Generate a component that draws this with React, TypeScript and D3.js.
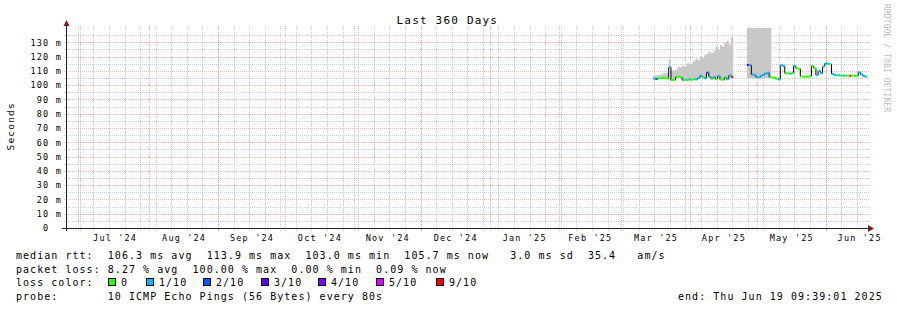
import React from 'react';
import * as d3 from 'd3';

// ---------- data ----------
const TITLE = 'Last 360 Days';
const Y_LABEL = 'Seconds';
const WATERMARK = 'RRDTOOL / TOBI OETIKER';
const yTickValues = [0, 10, 20, 30, 40, 50, 60, 70, 80, 90, 100, 110, 120, 130];
const yTickLabels = ['  0  ', ' 10 m', ' 20 m', ' 30 m', ' 40 m', ' 50 m', ' 60 m', ' 70 m', ' 80 m', ' 90 m', '100 m', '110 m', '120 m', '130 m'];
const monthLabels = ["Jul '24", "Aug '24", "Sep '24", "Oct '24", "Nov '24", "Dec '24", "Jan '25", "Feb '25", "Mar '25", "Apr '25", "May '25", "Jun '25"];

// daily series, segment 1 (starts 2025-03-15)
const seg1Start = Date.UTC(2025, 2, 15, 12);
const seg1Median = [104.6, 104.2, 104.8, 104.8, 105.0, 104.8, 104.6, 112.5, 103.6, 103.6, 105.9, 105.9, 105.6, 103.6, 103.8, 103.6, 104.0, 103.8, 104.2, 104.0, 105.0, 106.5, 105.4, 104.8, 108.8, 105.8, 104.5, 105.6, 104.2, 106.5, 104.0, 103.8, 105.6, 104.2, 106.8, 105.8];
const seg1Loss = [1, 2, 0, 0, 0, 0, 0, 1, 0, 0, 0, 0, 0, 1, 0, 0, 1, 0, 0, 1, 1, 1, 0, 1, 2, 1, 0, 1, 0, 1, 0, 0, 0, 1, 1, 9];
const seg1SmokeTop = [106.5, 107, 107, 107.5, 108, 108.3, 108.5, 117.6, 110.5, 110.5, 111, 113, 112.5, 113.5, 113, 115.5, 114.5, 115.3, 117, 118.5, 117.5, 120, 119, 121.5, 122, 123.5, 122.5, 124, 127, 125, 128, 127, 129.5, 131, 128.5, 133.5];

// segment 2 (starts 2025-04-26)
const seg2Start = Date.UTC(2025, 3, 26, 15);
const seg2Median = [114.1, 114.1, 107.3, 107.1, 105.5, 105.5, 106.5, 107.2, 108.2, 108.7, 105.5, 105.5, 105.3, 104.5, 104.0, 114.0, 113.5, 108.3, 108.3, 108.0, 108.5, 113.5, 111.8, 111.5, 106.0, 106.0, 105.8, 106.0, 106.2, 113.5, 111.8, 107.0, 110.0, 108.3, 113.0, 115.3, 115.0, 114.8, 107.8, 107.0, 106.8, 107.0, 106.6, 106.8, 106.6, 106.6, 106.6, 106.6, 106.6, 106.5, 109.0, 107.5, 106.5, 106.0];
const seg2Loss = [3, 1, 1, 1, 1, 1, 1, 1, 1, 1, 0, 0, 0, 0, 1, 1, 1, 0, 0, 1, 0, 1, 0, 0, 0, 0, 0, 0, 0, 0, 0, 1, 1, 1, 1, 1, 1, 0, 1, 1, 0, 1, 0, 1, 0, 0, 9, 0, 0, 0, 1, 1, 1, 1];
const seg2SmokeTop = [150, 150, 150, 150, 150, 150, 150, 150, 150, 150, 150];
const seg2SmokeLow = [105, 105, 105, 105, 105, 105, 105, 105, 105, 105, 105];

const lossKeys = [0, 1, 2, 3, 4, 5, 9];
const lossNames = ['0', '1/10', '2/10', '3/10', '4/10', '5/10', '9/10'];
const lossColors = ['#26ff00', '#00b8ff', '#0059ff', '#5e00ff', '#7e00ff', '#dd00ff', '#ff0000'];
const lossBoxX = [108, 146, 203, 261, 318, 376, 436];

const legendLine1 = 'median rtt:  106.3 ms avg  113.9 ms max  103.0 ms min  105.7 ms now   3.0 ms sd  35.4   am/s';
const legendLine2 = 'packet loss: 8.27 % avg  100.00 % max  0.00 % min  0.09 % now';
const legendLine3 = 'loss color:';
const legendLine4 = 'probe:       10 ICMP Echo Pings (56 Bytes) every 80s';
const endText = 'end: Thu Jun 19 09:39:01 2025';

// ---------- layout ----------
const W = 897, H = 310;
const X0 = 67, X1 = 867, Y0 = 228, Y1 = 28;
const DAY = 86400000;

const x = d3.scaleUtc().domain([new Date(Date.UTC(2024, 5, 25, 4)), new Date(Date.UTC(2025, 5, 19, 14))]).range([X0, X1]);
const y = d3.scaleLinear().domain([0, 140]).range([Y0, Y1]);

const mono = 'DejaVu Sans Mono, monospace';
const GRID = 'rgba(150,150,150,0.45)';
const MGRID = 'rgba(225,80,60,0.38)';

function px(v: number) { return Math.round(v) + 0.5; }

function buildSeg(start: number, med: number[], loss: number[]) {
  return med.map((m, i) => ({ t0: new Date(start + i * DAY), t1: new Date(start + (i + 1) * DAY), m, l: loss[i] }));
}

export default function App() {
  const s1 = buildSeg(seg1Start, seg1Median, seg1Loss);
  const s2 = buildSeg(seg2Start, seg2Median, seg2Loss);
  const domain = x.domain();

  const minorWeeks = d3.utcSunday.range(domain[0], domain[1]);
  const months = d3.utcMonth.range(domain[0], domain[1]);
  const monthStarts = d3.utcMonth.range(d3.utcMonth.floor(domain[0]), d3.utcMonth.offset(domain[1], 1));

  const minorH: number[] = [];
  for (let v = 5; v < 140; v += 5) if (v % 10 !== 0) minorH.push(v);
  const majorH = yTickValues.filter(v => v > 0);

  const smoke1 = seg1SmokeTop.map((t, i) => ({ t0: s1[i].t0, t1: s1[i].t1, lo: seg1Median[i], hi: t }));
  const smoke2 = seg2SmokeTop.map((t, i) => ({ t0: s2[i].t0, t1: s2[i].t1, lo: seg2SmokeLow[i], hi: Math.min(t, 140) }));
  const smokeArea = (arr: { t0: Date; t1: Date; lo: number; hi: number }[]) => {
    const pts: { t: Date; lo: number; hi: number }[] = [];
    arr.forEach(d => { pts.push({ t: d.t0, lo: d.lo, hi: d.hi }); pts.push({ t: d.t1, lo: d.lo, hi: d.hi }); });
    return d3.area<{ t: Date; lo: number; hi: number }>()
      .x(d => x(d.t)).y0(d => y(d.lo)).y1(d => y(Math.min(d.hi, 140)))(pts) || '';
  };

  const colorOf = (l: number) => lossColors[lossKeys.indexOf(l)];

  const medianMarks = (seg: ReturnType<typeof buildSeg>, key: string) => {
    const out: any[] = [];
    seg.forEach((d, i) => {
      if (i > 0) {
        const p = seg[i - 1];
        out.push(<line key={key + 'v' + i} x1={x(d.t0)} x2={x(d.t0)} y1={y(p.m)} y2={y(d.m)} stroke="#000" strokeWidth={1} />);
      }
    });
    seg.forEach((d, i) => {
      out.push(<line key={key + 'h' + i} x1={x(d.t0)} x2={x(d.t1)} y1={y(d.m)} y2={y(d.m)} stroke={colorOf(d.l)} strokeWidth={2} />);
    });
    return out;
  };

  const axisTxt = { fontFamily: mono, fontSize: 8.5, letterSpacing: 1.18 } as React.CSSProperties;
  const legTxt = { fontFamily: mono, fontSize: 10, letterSpacing: 1.04, whiteSpace: 'pre' } as React.CSSProperties;

  return (
    <svg width={W} height={H} viewBox={`0 0 ${W} ${H}`} style={{ position: 'absolute', left: 0, top: 0, background: '#fff' }}>
      <rect x={0} y={0} width={W} height={H} fill="#fff" />
      {minorH.map(v => (
        <line key={'mh' + v} x1={64} x2={870} y1={px(y(v))} y2={px(y(v))} stroke={GRID} strokeDasharray="1,1" />
      ))}
      {minorWeeks.map((d, i) => (
        <line key={'mv' + i} x1={px(x(d))} x2={px(x(d))} y1={26} y2={231} stroke={GRID} strokeDasharray="1,1" />
      ))}
      {majorH.map(v => (
        <line key={'Mh' + v} x1={64} x2={870} y1={px(y(v))} y2={px(y(v))} stroke={MGRID} strokeDasharray="1,1" />
      ))}
      {months.map((d, i) => (
        <line key={'Mv' + i} x1={px(x(d))} x2={px(x(d))} y1={26} y2={231} stroke={MGRID} strokeDasharray="1,1" />
      ))}

      <path d={smokeArea(smoke1)} fill="#c8c8c8" />
      <path d={smokeArea(smoke2)} fill="#c8c8c8" />

      {medianMarks(s1, 'a')}
      {medianMarks(s2, 'b')}

      <line x1={62} x2={870} y1={228.5} y2={228.5} stroke="#1f1f1f" />
      <line x1={66.5} x2={66.5} y1={231} y2={24} stroke="#1f1f1f" />
      <polygon points="868,225 868,232 874,228.5" fill="#7f1f1f" />
      <polygon points="63.5,26 69.5,26 66.5,20" fill="#7f1f1f" />

      {yTickValues.map((v, i) => (
        <text key={'yl' + v} x={30.5} y={y(v) + 3.3} style={{ ...axisTxt, whiteSpace: 'pre' }}>{yTickLabels[i]}</text>
      ))}
      {monthLabels.map((lab, i) => {
        const mid = (x(monthStarts[i + 1]) + x(monthStarts[i + 2])) / 2;
        return <text key={'xl' + i} x={mid - 21.4} y={241} style={axisTxt}>{lab}</text>;
      })}

      <text x={396.5} y={24} style={{ fontFamily: mono, fontSize: 11, letterSpacing: 1.2 }}>{TITLE}</text>
      <text transform="translate(14,150.5) rotate(-90)" style={{ fontFamily: mono, fontSize: 9.5, letterSpacing: 1.2 }}>{Y_LABEL}</text>
      <text transform="translate(884,4) rotate(90)" fill="#bdbdbd" style={{ fontFamily: mono, fontSize: 8, letterSpacing: 0.1 }}>{WATERMARK}</text>

      <text x={16} y={259} style={legTxt}>{legendLine1}</text>
      <text x={16} y={272.5} style={legTxt}>{legendLine2}</text>
      <text x={16} y={286} style={legTxt}>{legendLine3}</text>
      {lossNames.map((n, i) => (
        <g key={'lc' + i}>
          <rect x={lossBoxX[i] + 0.5} y={278.5} width={7} height={7} fill={lossColors[i]} stroke="#000" strokeWidth={1} />
          <text x={lossBoxX[i] + 13} y={286} style={legTxt}>{n}</text>
        </g>
      ))}
      <text x={16} y={300} style={legTxt}>{legendLine4}</text>
      <text x={678} y={300} style={legTxt}>{endText}</text>
    </svg>
  );
}
